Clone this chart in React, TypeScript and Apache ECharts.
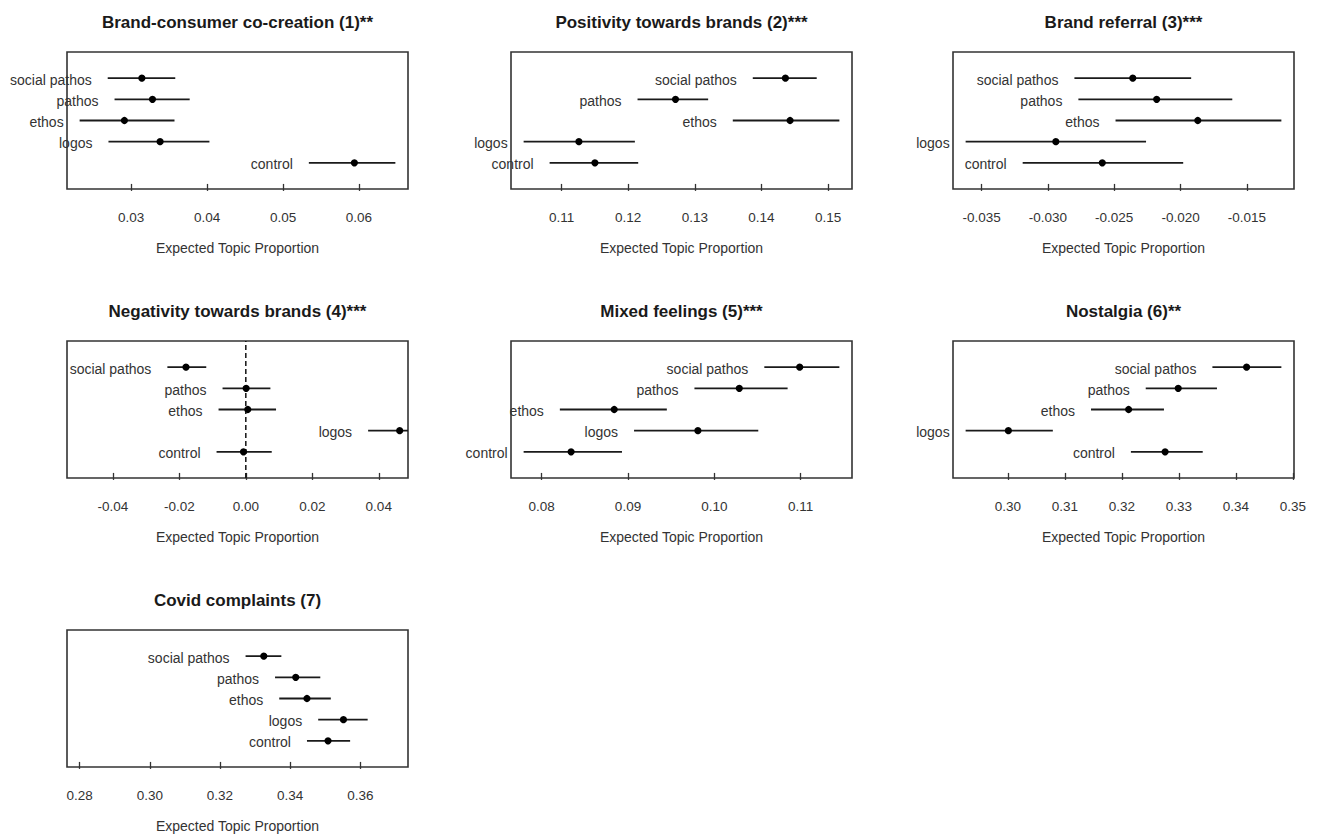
import React, { useEffect, useRef } from "react";
import * as echarts from "echarts";

// ---------- data ----------
const treatments = ["social pathos", "pathos", "ethos", "logos", "control"];
const rowPositions = [5, 4, 3, 2, 1];

const panelTitles = [
  "Brand-consumer co-creation (1)**",
  "Positivity towards brands (2)***",
  "Brand referral (3)***",
  "Negativity towards brands (4)***",
  "Mixed feelings (5)***",
  "Nostalgia (6)**",
  "Covid complaints (7)",
];

// (1) Brand-consumer co-creation
const coCreationPoint = [0.0314, 0.0328, 0.0291, 0.0338, 0.0594];
const coCreationLower = [0.0269, 0.0278, 0.0232, 0.0270, 0.0534];
const coCreationUpper = [0.0358, 0.0377, 0.0357, 0.0403, 0.0648];

// (2) Positivity towards brands
const positivityPoint = [0.1436, 0.1271, 0.1443, 0.1126, 0.1150];
const positivityLower = [0.1387, 0.1214, 0.1357, 0.1043, 0.1082];
const positivityUpper = [0.1483, 0.1320, 0.1517, 0.1210, 0.1215];

// (3) Brand referral
const referralPoint = [-0.0236, -0.0218, -0.0187, -0.0294, -0.0259];
const referralLower = [-0.0280, -0.0277, -0.0249, -0.0362, -0.0319];
const referralUpper = [-0.0192, -0.0161, -0.0124, -0.0226, -0.0198];

// (4) Negativity towards brands
const negativityPoint = [-0.0180, 0.0001, 0.0006, 0.0463, -0.0007];
const negativityLower = [-0.0236, -0.0070, -0.0082, 0.0368, -0.0088];
const negativityUpper = [-0.0119, 0.0074, 0.0091, 0.0559, 0.0078];

// (5) Mixed feelings
const mixedPoint = [0.1099, 0.1029, 0.0884, 0.0981, 0.0834];
const mixedLower = [0.1058, 0.0977, 0.0821, 0.0907, 0.0779];
const mixedUpper = [0.1145, 0.1085, 0.0945, 0.1051, 0.0893];

// (6) Nostalgia
const nostalgiaPoint = [0.3419, 0.3299, 0.3212, 0.3001, 0.3276];
const nostalgiaLower = [0.3359, 0.3242, 0.3146, 0.2926, 0.3216];
const nostalgiaUpper = [0.3480, 0.3367, 0.3274, 0.3079, 0.3342];

// (7) Covid complaints
const covidPoint = [0.3325, 0.3416, 0.3448, 0.3552, 0.3508];
const covidLower = [0.3273, 0.3357, 0.3369, 0.3480, 0.3448];
const covidUpper = [0.3375, 0.3486, 0.3516, 0.3621, 0.3571];

const tickLabels = [
  ["0.03", "0.04", "0.05", "0.06"],
  ["0.11", "0.12", "0.13", "0.14", "0.15"],
  ["-0.035", "-0.030", "-0.025", "-0.020", "-0.015"],
  ["-0.04", "-0.02", "0.00", "0.02", "0.04"],
  ["0.08", "0.09", "0.10", "0.11"],
  ["0.30", "0.31", "0.32", "0.33", "0.34", "0.35"],
  ["0.28", "0.30", "0.32", "0.34", "0.36"],
];

// manual x limits (null = from the data)
const manualLimits: (number[] | null)[] = [null, null, null, [-0.05, 0.045], null, null, [0.28, 0.37]];
const referenceLineValue = [0]; // dashed line in panel 4
const referencePanel = 3;
const axisTitle = "Expected Topic Proportion";

const pointsByPanel = [coCreationPoint, positivityPoint, referralPoint, negativityPoint, mixedPoint, nostalgiaPoint, covidPoint];
const lowerByPanel = [coCreationLower, positivityLower, referralLower, negativityLower, mixedLower, nostalgiaLower, covidLower];
const upperByPanel = [coCreationUpper, positivityUpper, referralUpper, negativityUpper, mixedUpper, nostalgiaUpper, covidUpper];

// ---------- layout ----------
const FONT = "'Liberation Sans', Arial, Helvetica, sans-serif";
const colLeft = [67, 511, 953];
const rowTop = [52, 341, 630];
const gridW = 341;
const gridH = 137;
const Y_MIN = -0.24;
const Y_MAX = 6.24;

function pad(lim: number[]) {
  const r = lim[1] - lim[0];
  return [lim[0] - 0.04 * r, lim[1] + 0.04 * r];
}

function buildOption() {
  const grids: any[] = [];
  const xAxes: any[] = [];
  const yAxes: any[] = [];
  const series: any[] = [];
  const graphics: any[] = [];

  panelTitles.forEach((title, i) => {
    const col = i % 3;
    const row = Math.floor(i / 3);
    const left = colLeft[col];
    const top = rowTop[row];
    grids.push({
      left,
      top,
      width: gridW,
      height: gridH,
      show: true,
      borderColor: "#333",
      borderWidth: 1.6,
      backgroundColor: "transparent",
      containLabel: false,
    });

    const lows = lowerByPanel[i];
    const highs = upperByPanel[i];
    const lim = manualLimits[i] || [Math.min(...lows), Math.max(...highs)];
    const [xmin, xmax] = pad(lim);
    const ticks = tickLabels[i].map((t) => parseFloat(t));

    xAxes.push({
      gridIndex: i,
      type: "value",
      min: xmin,
      max: xmax,
      axisLine: { show: false },
      axisTick: { show: true, customValues: ticks, length: 7, lineStyle: { color: "#333", width: 1.3 } },
      axisLabel: {
        show: true,
        customValues: ticks,
        margin: 21,
        fontSize: 13.5,
        fontFamily: FONT,
        color: "#333",
        formatter: (v: number) => {
          let best = tickLabels[i][0];
          let d = Infinity;
          tickLabels[i].forEach((t) => {
            const dd = Math.abs(parseFloat(t) - v);
            if (dd < d) {
              d = dd;
              best = t;
            }
          });
          return best;
        },
      },
      splitLine: { show: false },
      name: axisTitle,
      nameLocation: "middle",
      nameGap: 52,
      nameTextStyle: { fontSize: 14, fontFamily: FONT, color: "#333" },
    });
    yAxes.push({ gridIndex: i, type: "value", min: Y_MIN, max: Y_MAX, show: false });

    const data = treatments.map((_, k) => [lows[k], pointsByPanel[i][k], highs[k], rowPositions[k]]);
    series.push({
      type: "custom",
      xAxisIndex: i,
      yAxisIndex: i,
      data,
      encode: { x: [0, 1, 2], y: 3 },
      renderItem: (params: any, api: any) => {
        const y = api.value(3);
        const lo = api.coord([api.value(0), y]);
        const pt = api.coord([api.value(1), y]);
        const hi = api.coord([api.value(2), y]);
        const cs = params.coordSys;
        const x1 = Math.max(lo[0], cs.x);
        const x2 = Math.min(hi[0], cs.x + cs.width);
        return {
          type: "group",
          children: [
            { type: "line", shape: { x1, y1: pt[1], x2, y2: pt[1] }, style: { stroke: "#1a1a1a", lineWidth: 1.8 } },
            { type: "circle", shape: { cx: pt[0], cy: pt[1], r: 3.6 }, style: { fill: "#000" } },
            {
              type: "text",
              x: lo[0] - 16,
              y: pt[1] + 1.5,
              style: {
                text: treatments[params.dataIndex],
                textAlign: "right",
                textVerticalAlign: "middle",
                fontSize: 14,
                fontFamily: FONT,
                fill: "#333",
              },
            },
          ],
        };
      },
    });

    if (i === referencePanel) {
      series.push({
        type: "line",
        xAxisIndex: i,
        yAxisIndex: i,
        data: [
          [referenceLineValue[0], Y_MIN],
          [referenceLineValue[0], Y_MAX],
        ],
        symbol: "none",
        lineStyle: { type: [5, 3], color: "#111", width: 1.5 },
        z: 1,
      });
    }

    graphics.push({
      type: "text",
      x: left + gridW / 2,
      y: top - 30,
      style: {
        text: title,
        fontSize: 17,
        fontWeight: "bold",
        fontFamily: FONT,
        fill: "#1a1a1a",
        textAlign: "center",
        textVerticalAlign: "middle",
      },
    });
  });

  return {
    animation: false,
    backgroundColor: "#fff",
    grid: grids,
    xAxis: xAxes,
    yAxis: yAxes,
    series,
    graphic: graphics,
  };
}

export default function App() {
  const ref = useRef<HTMLDivElement>(null);
  useEffect(() => {
    if (!ref.current) return;
    const chart = echarts.init(ref.current, null, { renderer: "svg" });
    chart.setOption(buildOption() as any);
    return () => chart.dispose();
  }, []);
  return (
    <div
      ref={ref}
      style={{ position: "fixed", left: 0, top: 0, width: 1319, height: 839, background: "#fff" }}
    />
  );
}
